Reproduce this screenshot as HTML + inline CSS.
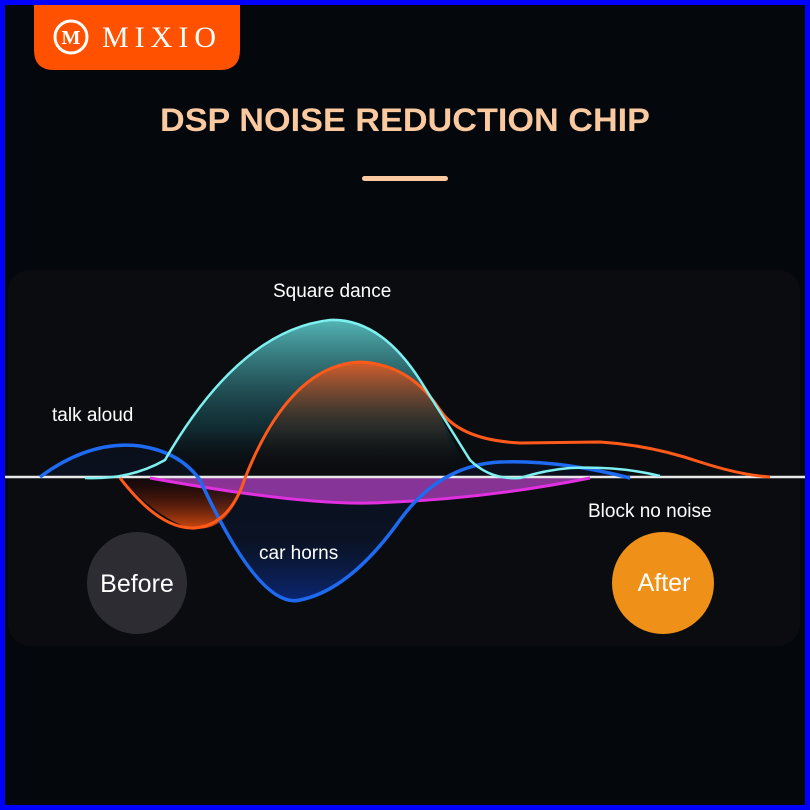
<!DOCTYPE html><html><head><style>
body{margin:0;background:#0000ff}
#c{position:absolute;left:5px;top:5px;width:800px;height:800px;background:#04070b;overflow:hidden;font-family:"Liberation Sans",sans-serif}
</style></head><body><div id="c">
<svg width="800" height="800" viewBox="5 5 800 800" xmlns="http://www.w3.org/2000/svg">
<defs>
<linearGradient id="cy" x1="0" y1="0" x2="0" y2="1"><stop offset="0" stop-color="#5cc8c8" stop-opacity=".9"/><stop offset=".7" stop-color="#1a5560" stop-opacity=".4"/><stop offset="1" stop-color="#000" stop-opacity="0"/></linearGradient>
<linearGradient id="or" x1="0" y1="0" x2="0" y2="1"><stop offset="0" stop-color="#e85a20" stop-opacity=".9"/><stop offset=".5" stop-color="#7a3010" stop-opacity=".3"/><stop offset="1" stop-color="#000" stop-opacity="0"/></linearGradient>
<linearGradient id="or2" x1="0" y1="0" x2="0" y2="1"><stop offset="0" stop-color="#300" stop-opacity=".2"/><stop offset="1" stop-color="#d04a10"/></linearGradient>
<linearGradient id="bl" x1="0" y1="0" x2="0" y2="1"><stop offset="0" stop-color="#0a2a70" stop-opacity=".1"/><stop offset=".6" stop-color="#0a2050" stop-opacity=".3"/><stop offset="1" stop-color="#0a2a80" stop-opacity=".9"/></linearGradient>
</defs>
<rect x="8" y="270" width="792" height="376" rx="22" fill="#0a0c10"/>
<path d="M34 5H240V50Q240 70 220 70H54Q34 70 34 50Z" fill="#ff5100"/>
<circle cx="71" cy="37" r="16" fill="none" stroke="#fff" stroke-width="3"/>
<text x="71" y="44" font-family="Liberation Serif" font-weight="bold" font-size="20" fill="#fff" text-anchor="middle">M</text>
<text x="102" y="47" font-family="Liberation Serif" font-size="30" fill="#fff" letter-spacing="6">MIXIO</text>
<text x="160" y="131" font-size="32" font-weight="bold" fill="#fbc9a0" textLength="490" lengthAdjust="spacingAndGlyphs">DSP NOISE REDUCTION CHIP</text>
<rect x="362" y="176" width="86" height="5" rx="2.5" fill="#fbc9a0"/>
<path d="M40 477Q90 440 140 446Q190 450 200 480Q260 610 300 600Q350 590 400 520Q440 465 500 462Q560 460 630 478Z" fill="url(#bl)"/>
<path d="M120 478Q160 520 190 528Q230 535 245 478Z" fill="url(#or2)"/>
<path d="M85 478Q130 480 165 460Q240 330 330 320Q380 318 420 380Q445 420 470 478Z" fill="url(#cy)"/>
<path d="M250 478Q290 365 360 362Q410 364 440 410Q455 470 470 478Z" fill="url(#or)"/>
<path d="M150 478Q300 505 370 503Q480 500 590 478Z" fill="#b040c0" opacity=".75"/>
<line x1="5" y1="477" x2="805" y2="477" stroke="#e8e8e8" stroke-width="2.5"/>
<path d="M150 478Q300 505 370 503Q480 500 590 478" fill="none" stroke="#e030e0" stroke-width="3"/>
<path d="M40 477Q90 440 140 446Q180 452 200 480Q260 610 300 600Q350 590 400 520Q440 465 500 462Q560 460 630 478" fill="none" stroke="#1e6af0" stroke-width="3.5"/>
<path d="M120 478Q160 530 195 528Q230 525 245 478Q290 365 360 362Q410 364 440 410Q460 440 520 443L600 442Q650 445 700 462Q740 475 770 477" fill="none" stroke="#ff5a1a" stroke-width="3"/>
<path d="M85 478Q130 480 165 460Q240 330 330 320Q380 318 420 380Q445 420 470 460Q490 480 520 478Q545 470 570 468Q620 466 660 476" fill="none" stroke="#7ff0f0" stroke-width="2.5"/>
<g font-size="19" fill="#fff">
<text x="273" y="297">Square dance</text>
<text x="52" y="421">talk aloud</text>
<text x="259" y="559">car horns</text>
<text x="588" y="517">Block no noise</text>
</g>
<ellipse cx="137" cy="583" rx="50" ry="51" fill="#2d2c33"/>
<text x="137" y="592" font-size="25" fill="#fff" text-anchor="middle">Before</text>
<ellipse cx="663" cy="583" rx="51" ry="51" fill="#ef9019"/>
<text x="664" y="591" font-size="25" fill="#fff" text-anchor="middle">After</text>
</svg></div></body></html>
